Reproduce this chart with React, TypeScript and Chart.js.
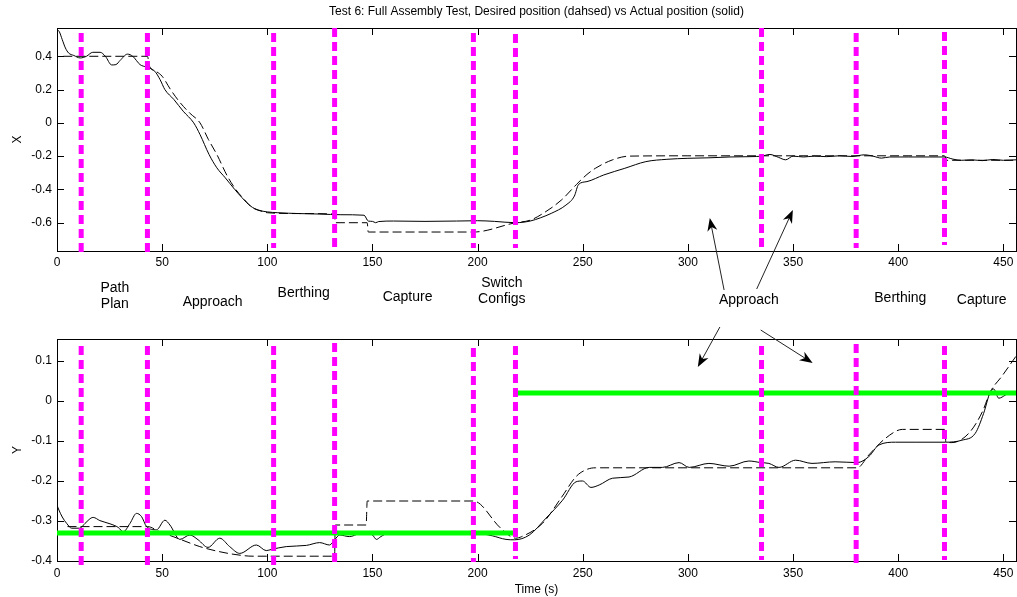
import { useEffect, useRef } from 'react';
import { Chart, registerables } from 'chart.js';

Chart.register(...registerables);

const FONT = 'Liberation Sans, Arial, Helvetica, sans-serif';
Chart.defaults.font.family = FONT;
Chart.defaults.color = '#000';

const TITLE = 'Test 6: Full Assembly Test, Desired position (dahsed) vs Actual position (solid)';

// ---- axes ----
const X_MIN = 0;
const X_MAX = 456;
const X_TICKS = [0, 50, 100, 150, 200, 250, 300, 350, 400, 450];
const TOP_Y_MIN = -0.77;
const TOP_Y_MAX = 0.57;
const TOP_Y_TICKS = [-0.6, -0.4, -0.2, 0, 0.2, 0.4];
const BOTTOM_Y_MIN = -0.4;
const BOTTOM_Y_MAX = 0.155;
const BOTTOM_Y_TICKS = [-0.4, -0.3, -0.2, -0.1, 0, 0.1];

// ---- phase boundaries (magenta dashed lines) ----
const PHASE_TIMES = [11.5, 43, 103, 132, 198, 218, 335, 380, 422];
const TOP_PHASE_HIGH = [0.54, 0.54, 0.54, 0.57, 0.54, 0.534, 0.57, 0.54, 0.546];
const TOP_PHASE_LOW = [-0.806, -0.776, -0.752, -0.76, -0.752, -0.752, -0.752, -0.752, -0.734];
const BOTTOM_PHASE_HIGH = [0.1375, 0.1375, 0.1375, 0.145, 0.1325, 0.1375, 0.1375, 0.1425, 0.1375];
const BOTTOM_PHASE_LOW = [-0.414, -0.41, -0.41, -0.4125, -0.4025, -0.395, -0.3975, -0.405, -0.3975];

// ---- X position (top) ----
const X_DESIRED: [number, number][] = [
  [3, 0.4], [43, 0.4], [44, 0.34], [47, 0.31], [50, 0.28], [54, 0.2], [58, 0.13], [63, 0.06], [68, 0.0],
  [72, -0.1], [76, -0.19], [81, -0.32], [85, -0.4], [89, -0.46], [93, -0.51], [97, -0.53], [100, -0.54],
  [115, -0.545], [132, -0.548], [132.3, -0.6], [147.5, -0.6], [148, -0.656], [198, -0.656], [218, -0.6],
  [225, -0.585], [231, -0.545], [240, -0.462], [247, -0.37], [252, -0.31], [256, -0.273], [264, -0.223],
  [272, -0.2], [300, -0.198], [422, -0.198], [423, -0.225], [456, -0.225],
];
const X_ACTUAL: [number, number][] = [
  [0, 0.56], [1, 0.55], [2.5, 0.5], [4, 0.45], [5.5, 0.42], [8, 0.405], [11, 0.39], [14, 0.4], [17, 0.424],
  [20.5, 0.424], [23, 0.4], [26, 0.348], [28, 0.35], [30, 0.375], [33.5, 0.413], [36, 0.4], [39.5, 0.35],
  [42.5, 0.335], [46.5, 0.31], [49, 0.26], [51.3, 0.2], [55.6, 0.14], [60, 0.07], [65, 0.0], [68, -0.07],
  [72.3, -0.19], [76, -0.27], [80, -0.33], [84.5, -0.4], [88, -0.45], [92, -0.5], [96, -0.525], [100, -0.535],
  [105, -0.54], [115, -0.545], [125, -0.548], [135, -0.552], [146, -0.555], [148, -0.59], [150, -0.592],
  [151.5, -0.6], [153, -0.593], [160, -0.59], [175, -0.592], [190, -0.59], [200, -0.588], [208, -0.592],
  [218, -0.6], [225, -0.59], [230, -0.57], [235, -0.544], [242, -0.494], [246, -0.44], [248, -0.37],
  [252, -0.353], [260, -0.313], [270, -0.273], [280, -0.233], [290, -0.219], [300, -0.213], [310, -0.21],
  [320, -0.205], [330, -0.203], [335, -0.2], [339, -0.19], [343, -0.207], [346.5, -0.222], [350, -0.2],
  [355, -0.205], [360, -0.2], [366, -0.203], [372, -0.198], [378, -0.202], [384, -0.192], [388, -0.2],
  [392, -0.212], [396, -0.205], [405, -0.205], [415, -0.205], [422, -0.205], [426, -0.218], [430, -0.225],
  [435, -0.222], [440, -0.227], [445, -0.22], [450, -0.225], [456, -0.222],
];

// ---- Y position (bottom) ----
const Y_DESIRED: [number, number][] = [
  [5, -0.314], [43, -0.314], [48.9, -0.327], [55.2, -0.339], [59.2, -0.347], [67.9, -0.364], [75.8, -0.375],
  [83.7, -0.383], [93.2, -0.388], [132, -0.388], [132.3, -0.31], [147, -0.31], [147.5, -0.25], [198, -0.25],
  [211, -0.318], [218, -0.343], [221, -0.339], [231, -0.305], [240, -0.24], [246.8, -0.189], [251.5, -0.172],
  [256, -0.167], [380.5, -0.167], [386, -0.135], [394, -0.093], [402, -0.071], [422.4, -0.071],
  [422.6, -0.103], [425.5, -0.104], [433.5, -0.081], [440, -0.027], [443.8, 0.023], [449.3, 0.062], [456, 0.112],
];
const Y_ACTUAL: [number, number][] = [
  [0, -0.26], [0.7, -0.27], [2.5, -0.29], [4.6, -0.306], [7, -0.318], [10.9, -0.318], [13.3, -0.306],
  [17.2, -0.291], [20.4, -0.299], [25.2, -0.307], [29.1, -0.316], [31.5, -0.327], [34.7, -0.306],
  [37.8, -0.281], [40.2, -0.289], [42.6, -0.314], [47.3, -0.322], [51.3, -0.298], [53.7, -0.31],
  [58.4, -0.346], [63.2, -0.335], [67.1, -0.347], [71.8, -0.366], [77.4, -0.343], [82.1, -0.364],
  [86.9, -0.381], [94.8, -0.36], [99.5, -0.374], [102, -0.371], [109, -0.364], [118.6, -0.361],
  [124.9, -0.354], [129.6, -0.36], [132, -0.347], [134.4, -0.335], [139, -0.339], [143.9, -0.331],
  [147, -0.328], [150, -0.335], [151.9, -0.346], [154, -0.339], [157.3, -0.331], [165, -0.33],
  [180, -0.329], [195, -0.33], [202, -0.332], [207, -0.337], [213.5, -0.346], [217.5, -0.347],
  [224.6, -0.335], [232.5, -0.293], [240.4, -0.248], [246.8, -0.202], [249.9, -0.2], [253.9, -0.216],
  [257.8, -0.21], [264.2, -0.193], [272, -0.19], [281.6, -0.166], [287.9, -0.166], [295.8, -0.154],
  [300.6, -0.166], [310, -0.156], [319.6, -0.163], [329, -0.15], [334.7, -0.154], [338.5, -0.156],
  [343.3, -0.166], [351.2, -0.148], [359, -0.156], [370, -0.152], [380.5, -0.154], [386, -0.139],
  [390.8, -0.11], [398.7, -0.103], [408, -0.103], [422.4, -0.103], [430.3, -0.098], [436.6, -0.081],
  [440.6, -0.031], [443.8, 0.023], [445.4, 0.03], [447.8, 0.007], [451, 0.015], [452.5, 0.02], [456, 0.02],
];
const GREEN_BEFORE: [number, number][] = [[0, -0.33], [219, -0.33]];
const GREEN_AFTER: [number, number][] = [[219, 0.02], [456, 0.02]];

// ---- annotations between the panels ----
const PHASE_LABELS: { t: number; lines: string[]; y: number }[] = [
  { t: 27.5, lines: ['Path', 'Plan'], y: 288 },
  { t: 74, lines: ['Approach'], y: 302 },
  { t: 117.3, lines: ['Berthing'], y: 293 },
  { t: 166.7, lines: ['Capture'], y: 297 },
  { t: 211.5, lines: ['Switch', 'Configs'], y: 283 },
  { t: 329, lines: ['Approach'], y: 300 },
  { t: 401, lines: ['Berthing'], y: 298 },
  { t: 439.7, lines: ['Capture'], y: 300 },
];
const ARROWS: { fromT: number; fromY: number; toT: number; toVal: number; panel: 'top' | 'bottom' }[] = [
  { fromT: 317.2, fromY: 290, toT: 310.4, toVal: -0.572, panel: 'top' },
  { fromT: 332.7, fromY: 289, toT: 349.9, toVal: -0.524, panel: 'top' },
  { fromT: 315.2, fromY: 327, toT: 304.7, toVal: 0.085, panel: 'bottom' },
  { fromT: 334.6, fromY: 330, toT: 359.3, toVal: 0.095, panel: 'bottom' },
];

const pts = (arr: [number, number][]) => arr.map(([x, y]) => ({ x, y }));
const fmt = (v: any) => String(Math.round(Number(v) * 100) / 100);

function phaseDatasets(high: number[], low: number[]) {
  return PHASE_TIMES.map((t, i) => ({
    data: [{ x: t, y: high[i] }, { x: t, y: low[i] }],
    borderColor: '#ff00ff',
    borderWidth: 5,
    borderDash: [9, 5],
    pointRadius: 0,
    clip: false as any,
    order: 0,
  }));
}

const curve = (arr: [number, number][], dashed: boolean) => ({
  data: pts(arr),
  borderColor: '#000',
  borderWidth: 1,
  borderDash: dashed ? [9, 4] : [],
  pointRadius: 0,
  cubicInterpolationMode: 'monotone' as const,
  order: 2,
});

const green = (arr: [number, number][]) => ({
  data: pts(arr),
  borderColor: '#00ff00',
  borderWidth: 5,
  pointRadius: 0,
  order: 1,
});

const framePlugin = {
  id: 'frame',
  beforeDatasetsDraw(chart: any) {
    const { ctx, chartArea: a, scales } = chart;
    ctx.save();
    ctx.strokeStyle = '#000';
    ctx.lineWidth = 1;
    ctx.strokeRect(Math.round(a.left) + 0.5, Math.round(a.top) + 0.5, Math.round(a.right - a.left), Math.round(a.bottom - a.top));
    const L = 7;
    ctx.beginPath();
    scales.x.ticks.forEach((tk: any) => {
      const px = Math.round(scales.x.getPixelForValue(tk.value)) + 0.5;
      ctx.moveTo(px, a.bottom); ctx.lineTo(px, a.bottom - L);
      ctx.moveTo(px, a.top); ctx.lineTo(px, a.top + L);
    });
    scales.y.ticks.forEach((tk: any) => {
      const py = Math.round(scales.y.getPixelForValue(tk.value)) + 0.5;
      ctx.moveTo(a.left, py); ctx.lineTo(a.left + L, py);
      ctx.moveTo(a.right, py); ctx.lineTo(a.right - L, py);
    });
    ctx.stroke();
    ctx.restore();
  },
};

function drawArrow(ctx: CanvasRenderingContext2D, x0: number, y0: number, x1: number, y1: number) {
  const ang = Math.atan2(y1 - y0, x1 - x0);
  const c = Math.cos(ang), s = Math.sin(ang);
  const len = 13, half = 5;
  ctx.beginPath();
  ctx.moveTo(x0, y0);
  ctx.lineTo(x1 - c * 8, y1 - s * 8);
  ctx.stroke();
  const bx = x1 - c * len, by = y1 - s * len;
  const mx = x1 - c * len * 0.7, my = y1 - s * len * 0.7;
  ctx.beginPath();
  ctx.moveTo(x1, y1);
  ctx.lineTo(bx - s * half, by + c * half);
  ctx.lineTo(mx, my);
  ctx.lineTo(bx + s * half, by - c * half);
  ctx.closePath();
  ctx.fill();
}

function xAxis(withTitle: boolean, height: number, pad: number) {
  return {
    type: 'linear' as const,
    min: X_MIN,
    max: X_MAX,
    afterBuildTicks: (s: any) => { s.ticks = X_TICKS.map((value) => ({ value })); },
    afterFit: (s: any) => { s.height = height; s.paddingLeft = 0; s.paddingRight = 0; },
    grid: { display: false, drawTicks: false, tickLength: 0 },
    border: { display: false },
    ticks: { padding: pad, color: '#000', font: { size: 12, family: FONT }, maxRotation: 0, autoSkip: false, callback: fmt },
    title: { display: withTitle, text: 'Time (s)', color: '#000', font: { size: 12, family: FONT }, padding: 0 },
  };
}

function yAxis(min: number, max: number, ticks: number[], label: string) {
  return {
    type: 'linear' as const,
    min,
    max,
    afterBuildTicks: (s: any) => { s.ticks = ticks.map((value) => ({ value })); },
    afterFit: (s: any) => { s.width = 47; s.paddingTop = 0; s.paddingBottom = 0; },
    grid: { display: false, drawTicks: false, tickLength: 0 },
    border: { display: false },
    ticks: { padding: 5, color: '#000', font: { size: 12, family: FONT }, autoSkip: false, callback: fmt },
    title: { display: true, text: label, color: '#000', font: { size: 12, family: FONT }, padding: 0 },
  };
}

export default function App() {
  const topRef = useRef<HTMLCanvasElement>(null);
  const botRef = useRef<HTMLCanvasElement>(null);

  useEffect(() => {
    const top = new Chart(topRef.current as HTMLCanvasElement, {
      type: 'line',
      data: {
        datasets: [
          ...phaseDatasets(TOP_PHASE_HIGH, TOP_PHASE_LOW),
          curve(X_DESIRED, true),
          curve(X_ACTUAL, false),
        ] as any,
      },
      options: {
        animation: false,
        responsive: false,
        events: [],
        layout: { padding: { left: 10, right: 1, top: 0, bottom: 326 } },
        plugins: {
          legend: { display: false },
          tooltip: { enabled: false },
          title: {
            display: true,
            text: TITLE,
            fullSize: false,
            color: '#000',
            font: { size: 12, weight: 'normal', family: FONT },
            padding: { top: 4, bottom: 9.6 },
          },
        },
        scales: {
          x: xAxis(false, 20, 4),
          y: yAxis(TOP_Y_MIN, TOP_Y_MAX, TOP_Y_TICKS, 'X'),
        },
      } as any,
      plugins: [framePlugin],
    });

    const annotationPlugin = {
      id: 'annotations',
      afterDraw(chart: any) {
        const { ctx } = chart;
        const xs = chart.scales.x;
        ctx.save();
        ctx.fillStyle = '#000';
        ctx.font = `14px ${FONT}`;
        ctx.textAlign = 'center';
        ctx.textBaseline = 'middle';
        PHASE_LABELS.forEach((lab) => {
          const px = xs.getPixelForValue(lab.t);
          lab.lines.forEach((ln, i) => ctx.fillText(ln, px, lab.y + i * 16));
        });
        ctx.strokeStyle = '#222';
        ctx.lineWidth = 1;
        ARROWS.forEach((ar) => {
          const ys = ar.panel === 'top' ? top.scales.y : chart.scales.y;
          drawArrow(ctx, xs.getPixelForValue(ar.fromT), ar.fromY, xs.getPixelForValue(ar.toT), ys.getPixelForValue(ar.toVal));
        });
        ctx.restore();
      },
    };

    const bottom = new Chart(botRef.current as HTMLCanvasElement, {
      type: 'line',
      data: {
        datasets: [
          ...phaseDatasets(BOTTOM_PHASE_HIGH, BOTTOM_PHASE_LOW),
          green(GREEN_BEFORE),
          green(GREEN_AFTER),
          curve(Y_DESIRED, true),
          curve(Y_ACTUAL, false),
        ] as any,
      },
      options: {
        animation: false,
        responsive: false,
        events: [],
        layout: { padding: { left: 10, right: 1, top: 339, bottom: 0 } },
        plugins: { legend: { display: false }, tooltip: { enabled: false } },
        scales: {
          x: xAxis(true, 36, 5),
          y: yAxis(BOTTOM_Y_MIN, BOTTOM_Y_MAX, BOTTOM_Y_TICKS, 'Y'),
        },
      } as any,
      plugins: [framePlugin, annotationPlugin],
    });

    return () => {
      bottom.destroy();
      top.destroy();
    };
  }, []);

  const cs: any = { position: 'absolute', left: 0, top: 0, width: 1017, height: 597 };
  return (
    <div style={{ position: 'absolute', left: 0, top: 0, width: 1017, height: 597, background: '#fff' }}>
      <canvas ref={topRef} width={1017} height={597} style={cs} />
      <canvas ref={botRef} width={1017} height={597} style={cs} />
    </div>
  );
}
